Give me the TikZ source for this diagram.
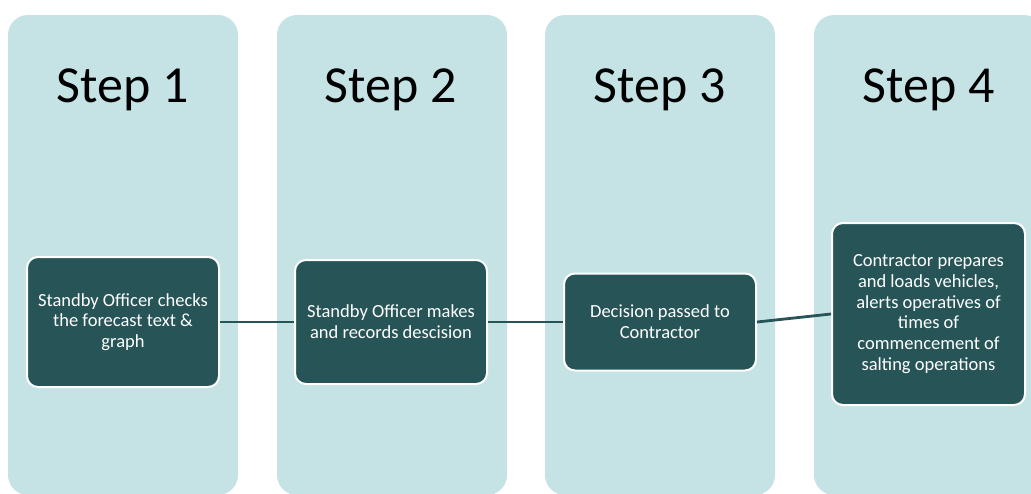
\documentclass[tikz,border=0pt]{standalone}
\usepackage{fontspec}
\setmainfont{Carlito}
\definecolor{colfill}{HTML}{C5E3E5}
\definecolor{boxfill}{HTML}{265457}
\begin{document}
\begin{tikzpicture}[x=1pt,y=1pt,
  column/.style={fill=colfill, draw=none, rounded corners=20pt},
  steplabel/.style={font=\fontsize{52}{60}\selectfont, text=black, inner sep=0pt, anchor=base},
  stepbox/.style={fill=boxfill, draw=white, line width=2pt, rounded corners=11pt,
    text=white, align=center, inner sep=0pt,
    font=\fontsize{18.5}{20.8}\selectfont},
  link/.style={draw=boxfill, line width=2.8pt}]
\useasboundingbox (0,0) rectangle (1031,-493);
\begin{scope}
\clip (0,0) rectangle (1031,-493);
\fill[column] (8,-15) rectangle (238,-495);
\fill[column] (277,-15) rectangle (507,-495);
\fill[column] (545,-15) rectangle (775,-495);
\fill[column] (814,-15) rectangle (1044,-495);
\end{scope}
\node[steplabel] (s1) at (123,-102) {Step 1};
\node[steplabel] (s2) at (391,-102) {Step 2};
\node[steplabel] (s3) at (660,-102) {Step 3};
\node[steplabel] (s4) at (929,-102) {Step 4};
\node[stepbox, minimum width=192pt, minimum height=130pt] (b1) at (123,-322)
  {Standby Officer checks\\the forecast text \&\\graph};
\node[stepbox, minimum width=192pt, minimum height=124pt] (b2) at (391,-322)
  {Standby Officer makes\\and records descision};
\node[stepbox, minimum width=192pt, minimum height=97pt] (b3) at (660,-322)
  {Decision passed to\\Contractor};
\node[stepbox, minimum width=193pt, minimum height=182pt] (b4) at (928.5,-314)
  {Contractor prepares\\and loads vehicles,\\alerts operatives of\\times of\\commencement of\\salting operations};
\draw[link] (b1.east) -- (b2.west);
\draw[link] (b2.east) -- (b3.west);
\draw[link] (b3.east) -- (b4.west);
\end{tikzpicture}
\end{document}
